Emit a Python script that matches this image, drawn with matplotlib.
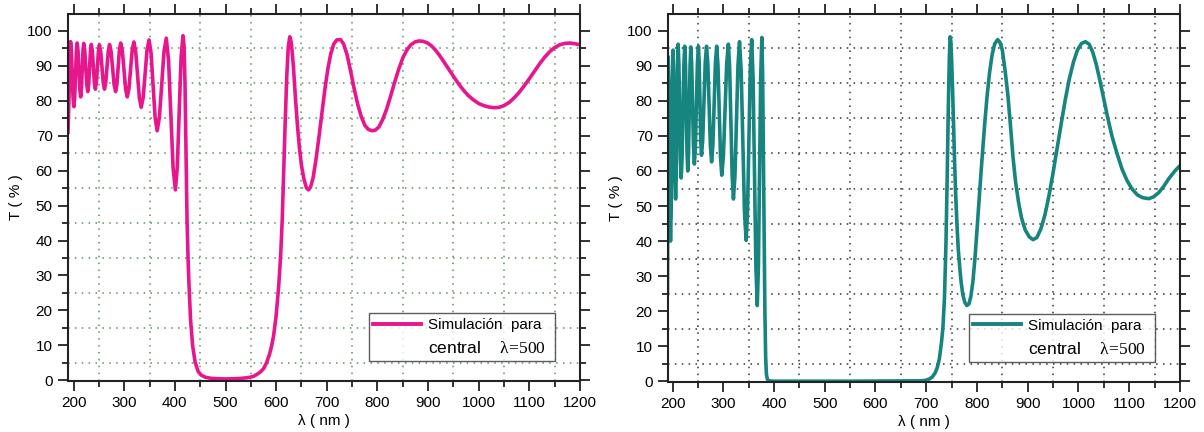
import matplotlib.pyplot as plt
from matplotlib.ticker import MultipleLocator
from matplotlib.lines import Line2D

plt.rcParams['font.family'] = ['Liberation Sans', 'DejaVu Sans']
plt.rcParams['mathtext.fontset'] = 'custom'
plt.rcParams['mathtext.rm'] = 'Liberation Serif'
plt.rcParams['mathtext.it'] = 'Liberation Serif:italic'

# espectro izquierdo (T % vs lambda nm)
wl_izq = [189, 194, 195.7, 197.3, 198.9, 200.6, 202.2, 203.8, 205.4, 207, 208.75, 210.5,
          212.25, 214, 215.5, 217, 218.5, 220, 222, 224, 226, 228, 229.75, 231.5, 233.25,
          235, 237, 239, 241, 243, 245, 247, 249, 251, 253.5, 256, 258.5, 261, 263.5,
          266, 268.5, 271, 274, 277, 280, 283, 285.5, 288, 290.5, 293, 296.25, 299.5,
          302.75, 306, 309.25, 312.5, 315.75, 319, 322.6, 326.25, 329.9, 333.5, 337.4,
          341.25, 345.1, 349, 353, 357, 361, 365, 369.5, 374, 378.5, 383, 387.5, 392,
          396.5, 401, 404.75, 408.5, 412.25, 416, 418, 420, 422, 424, 426, 428, 431,
          435, 440, 446, 452, 460, 470, 485, 500, 515, 530, 540, 549, 556, 562, 569,
          575, 581, 587, 591, 595, 600, 605, 609, 612, 615, 618, 621, 624, 627, 630,
          634, 638, 642, 646, 650, 655, 660, 664, 668, 673, 678, 684, 690, 696, 702,
          708, 714, 720, 727, 733, 740, 747, 754, 761, 768, 775, 782, 789, 796, 803,
          810, 818, 826, 834, 842, 850, 858, 866, 874, 882, 890, 898, 906, 914, 922,
          930, 940, 950, 960, 970, 980, 990, 1000, 1010, 1020, 1030, 1040, 1050, 1060,
          1070, 1080, 1090, 1100, 1110, 1120, 1130, 1140, 1150, 1160, 1170, 1180, 1190, 1200]
t_izq = [71, 96.9, 94.2, 87.6, 81.0, 78.3, 81.0, 87.4, 93.8, 96.5, 94.3, 88.8,
         83.3, 81.1, 83.3, 88.8, 94.2, 96.4, 94.4, 89.5, 84.6, 82.6, 84.6, 89.4, 94.1,
         96.1, 94.2, 89.7, 85.2, 83.3, 85.2, 89.7, 94.1, 96.0, 94.1, 89.7, 85.2, 83.3, 85.2,
         89.7, 94.2, 96.1, 94.1, 89.4, 84.6, 82.6, 84.6, 89.6, 94.5, 96.5, 94.3, 88.8,
         83.3, 81.1, 83.4, 89.0, 94.5, 96.8, 94.1, 87.5, 80.8, 78.1, 80.9,
         87.8, 94.6, 97.4, 93.6, 84.4, 75.2, 71.4, 75.3, 84.7, 94.0, 97.9, 91.6, 76.2,
         60.8, 54.5, 60.9, 76.6, 92.2, 98.6, 96, 85, 66, 46, 35, 27, 17.3,
         10, 5.2, 2.5, 1.5, 0.9, 0.6, 0.45, 0.4, 0.45, 0.55, 0.7, 0.9, 1.2, 1.7, 2.4,
         3.3, 5, 7.5, 9.8, 12.8, 18.5, 26.9, 36, 45.9, 60, 74.5, 87, 95.5, 98.3, 96.5,
         90, 81, 73, 66.5, 61.5, 57.5, 55, 54.5, 55.3, 58, 62.5, 69, 76, 83, 89,
         93.5, 96.3, 97.4, 97.5, 96.3, 93.2, 88.5, 83.5, 79, 75.5, 73, 71.8, 71.4, 71.6, 72.5,
         74.5, 77.5, 81.3, 85.3, 89, 92.2, 94.5, 96, 96.8, 97.1, 97.0, 96.6, 95.8, 94.6, 93.1,
         91.4, 89.2, 87, 84.9, 83, 81.4, 80.2, 79.2, 78.6, 78.2, 78.0, 78.1, 78.6, 79.5,
         80.8, 82.4, 84.3, 86.3, 88.4, 90.5, 92.4, 94, 95.2, 96, 96.4, 96.5, 96.3, 96.0]

# espectro derecho
wl_der = [190, 191.5, 192.6, 193.75, 194.9, 196, 197.25, 198.5, 199.75, 201, 202.25, 203.5,
          204.75, 206, 207.25, 208.5, 209.75, 211, 212.5, 214, 215.5, 217, 218.75, 220.5,
          222.25, 224, 225.5, 227, 228.5, 230, 231.5, 233, 234.5, 236, 237.75, 239.5,
          241.25, 243, 245, 247, 249, 251, 252.5, 254, 255.5, 257, 259.5, 262, 264.5,
          267, 269.5, 272, 274.5, 277, 279.5, 282, 284.5, 287, 289.5, 292, 294.5, 297,
          300.25, 303.5, 306.75, 310, 312.5, 315, 317.5, 320, 323, 326, 329, 332, 335.25,
          338.5, 341.75, 345, 347.75, 350.5, 353.25, 356, 358.75, 361.5, 364.25, 367,
          369.25, 371.5, 373.75, 376, 377.5, 379, 380.5, 382, 383.5, 385, 387, 390, 400,
          550, 690, 700, 706, 712, 718, 722, 726, 730, 733, 736, 739, 741.5, 743.5, 745.5,
          747, 748.5, 750, 752, 754, 756, 758, 760.5, 763, 766, 769, 772, 776, 780, 784,
          788, 792, 796, 800, 805, 810, 815, 820, 825, 830, 835, 840.6, 845, 850, 856,
          861, 866, 871, 876, 882, 888, 895, 903, 910.5, 918, 926, 934, 942, 950, 958,
          966, 974, 982, 990, 998, 1006, 1013.7, 1021, 1028, 1035, 1042, 1050, 1058, 1066,
          1076, 1086, 1096, 1106, 1116, 1126, 1138.6, 1148, 1158, 1168, 1178, 1190, 1200]
t_der = [25, 92.6, 84.9, 66.3, 47.7, 40, 48, 67.3, 86.5, 94.5, 88.3, 73.3,
         58.2, 52, 58.5, 74.1, 89.7, 96.2, 90.6, 77.1, 63.6, 58, 63.5, 76.8,
         90.1, 95.6, 90.4, 77.8, 65.2, 60, 65.2, 77.7, 90.2, 95.4, 90.5, 78.7,
         66.9, 62, 66.9, 78.8, 90.7, 95.6, 91.1, 80.1, 69.0, 64.5, 69.0, 80.1, 91.1,
         95.6, 90.8, 79.1, 67.4, 62.6, 67.4, 79.1, 90.8, 95.6, 90.2, 77.2, 64.2, 58.8,
         64.3, 77.5, 90.7, 96.2, 89.7, 74.1, 58.5, 52, 58.6, 74.5, 90.3, 96.9, 88.6,
         68.6, 48.5, 40.2, 48.6, 68.9, 89.1, 97.5, 86.4, 59.6, 32.7, 21.6,
         32.8, 59.9, 86.9, 98.1, 88, 65, 40, 20, 7, 2, 0.5, 0.1, 0,
         0, 0.1, 0.3, 0.6, 1.2, 2.5, 4, 6.5, 11, 15.5, 24, 40, 60, 78, 92,
         98.3, 97, 92, 83, 72, 62, 53.5, 45, 38, 32.5, 28, 24.8, 22.5, 21.6, 22,
         24.2, 28.5, 35, 43, 53.5, 63.5, 73, 81.5, 88.3, 93.3, 96.3, 97.5, 96.8, 94.5, 88,
         81.5, 73, 64, 57, 51, 46.5, 43.2, 41.2, 40.4, 41, 43.5, 47.5, 53, 59.5, 66.5,
         73.5, 80.3, 86.3, 91, 94.5, 96.4, 96.9, 96.2, 94, 90.5, 86, 80.5, 75, 70,
         65, 60.5, 57.2, 54.8, 53.2, 52.4, 52.1, 52.6, 53.8, 55.6, 57.8, 60, 61.5]

fig = plt.figure(figsize=(12.04, 4.32), dpi=100)
ax1 = fig.add_axes([0.0565, 0.118, 0.4252, 0.8495])
ax2 = fig.add_axes([0.5548, 0.116, 0.4252, 0.8515])

paneles = [(ax1, wl_izq, t_izq, '#e8168c', '#5d8f5d', 189),
           (ax2, wl_der, t_der, '#16847f', '#333333', 191)]

for ax, wl, t, color, gcolor, x0 in paneles:
    ax.plot(wl, t, '-', color=color, lw=2.6, solid_joinstyle='round')
    ax.set_xlim(x0, 1200)
    ax.set_ylim(-0.2, 104.8)
    ax.xaxis.set_major_locator(MultipleLocator(100))
    ax.xaxis.set_minor_locator(MultipleLocator(50))
    ax.yaxis.set_major_locator(MultipleLocator(10))
    ax.yaxis.set_minor_locator(MultipleLocator(5))
    ax.grid(False)
    ax.grid(True, which='minor', color=gcolor, ls=(0, (1, 3.5)), lw=1.1)
    ax.tick_params(which='both', direction='out', top=True, right=True,
                   labelsize=11, color='#222222', width=1.3, pad=4)
    ax.tick_params(which='major', length=7)
    ax.tick_params(which='minor', length=4)
    for s in ax.spines.values():
        s.set_linewidth(1.5)
        s.set_color('#222222')
    ax.set_xlabel('λ ( nm )', fontsize=11, labelpad=3)
    ax.set_ylabel('T ( % )', fontsize=11, labelpad=3)

    h1 = Line2D([], [], color=color, lw=2.8)
    h2 = Line2D([], [], color='none')
    leg = ax.legend([h1, h2], ['Simulación  para  ', 'central    $\\mathrm{λ\\!=\\!500}$'],
                    loc='lower right', bbox_to_anchor=(0.951, 0.055),
                    fontsize=11, frameon=True, fancybox=False, edgecolor='#333333',
                    handlelength=3.1, handletextpad=0.5, labelspacing=0.55,
                    borderpad=0.3, borderaxespad=0)
    leg.get_frame().set_linewidth(1.0)
    leg.get_texts()[1].set_fontsize(12.5)

fig.savefig('out.png', dpi=100)
